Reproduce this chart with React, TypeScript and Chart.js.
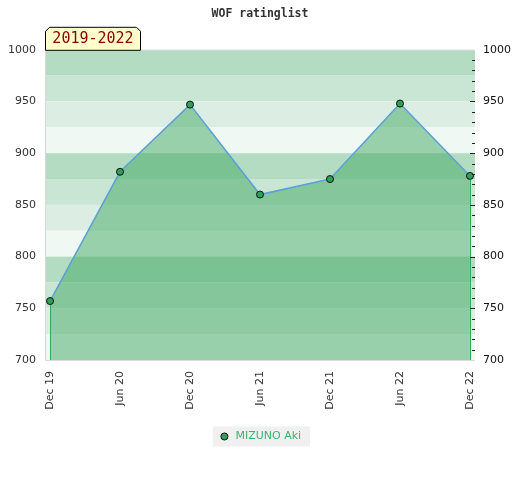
import React, { useEffect, useRef } from "react";
import { Chart, registerables } from "chart.js";

Chart.register(...registerables);

const categories = ["Dec 19", "Jun 20", "Dec 20", "Jun 21", "Dec 21", "Jun 22", "Dec 22"];
const ratings = [757, 882, 947, 860, 875, 948, 878];
const seriesName = "MIZUNO Aki";
const periodLabel = "2019-2022";
const chartTitle = "WOF ratinglist";
const yMin = 700;
const yMax = 1000;
const yStep = 50;
const bandStep = 25;
const minorStep = 10;

const bandColors = ["#b3dcc3", "#c8e6d3", "#dceee3", "#eff8f2"];

const decorPlugin = {
  id: "decor",
  beforeDraw(chart: any) {
    const { ctx, chartArea } = chart;
    const y = chart.scales.y;
    ctx.save();
    ctx.fillStyle = "#ffffff";
    ctx.fillRect(0, 0, chart.width, chart.height);
    let i = 0;
    for (let v = yMax; v > yMin; v -= bandStep) {
      const top = y.getPixelForValue(v);
      const bot = y.getPixelForValue(v - bandStep);
      ctx.fillStyle = bandColors[i % bandColors.length];
      ctx.fillRect(chartArea.left, top, chartArea.right - chartArea.left, bot - top);
      i++;
    }
    ctx.strokeStyle = "#d9d9d9";
    ctx.lineWidth = 1;
    ctx.beginPath();
    ctx.moveTo(chartArea.left + 0.5, chartArea.top + 0.5);
    ctx.lineTo(chartArea.left + 0.5, chartArea.bottom + 0.5);
    ctx.lineTo(chartArea.right, chartArea.bottom + 0.5);
    ctx.moveTo(chartArea.left, chartArea.top + 0.5);
    ctx.lineTo(chartArea.right, chartArea.top + 0.5);
    ctx.stroke();

    // legend background
    const lg = chart.legend;
    if (lg && lg.legendHitBoxes && lg.legendHitBoxes.length) {
      const hb = lg.legendHitBoxes[0];
      const cy = hb.top + hb.height / 2;
      ctx.fillStyle = "#f0f0f0";
      ctx.fillRect(hb.left - 6, cy - 10, hb.width + 15, 20);
    }
    ctx.restore();
  },
  afterDatasetsDraw(chart: any) {
    const { ctx, chartArea } = chart;
    const meta = chart.getDatasetMeta(0);
    const pts = meta.data;
    if (!pts.length) return;
    ctx.save();
    ctx.strokeStyle = "rgb(52,168,90)";
    ctx.lineWidth = 1;
    [pts[0], pts[pts.length - 1]].forEach((p: any) => {
      const x = Math.round(p.x) + 0.5;
      ctx.beginPath();
      ctx.moveTo(x, p.y + 4);
      ctx.lineTo(x, chartArea.bottom);
      ctx.stroke();
    });
    ctx.restore();
  },
  afterDraw(chart: any) {
    const { ctx, chartArea } = chart;
    const y = chart.scales.y;
    ctx.save();
    ctx.strokeStyle = "#222222";
    ctx.lineWidth = 1;
    for (let v = yMin + minorStep; v < yMax; v += minorStep) {
      const py = Math.round(y.getPixelForValue(v)) + 0.5;
      const len = v % yStep === 0 ? 5 : 3;
      ctx.beginPath();
      ctx.moveTo(chartArea.right - len, py);
      ctx.lineTo(chartArea.right, py);
      ctx.stroke();
    }
    // period label box
    const l = chartArea.left;
    const t = chartArea.top - 23;
    const w = 95;
    const h = 23;
    const c = 4;
    ctx.beginPath();
    ctx.moveTo(l + 0.5, chartArea.top + 0.5);
    ctx.lineTo(l + 0.5, t + c + 0.5);
    ctx.lineTo(l + c + 0.5, t + 0.5);
    ctx.lineTo(l + w - c + 0.5, t + 0.5);
    ctx.lineTo(l + w + 0.5, t + c + 0.5);
    ctx.lineTo(l + w + 0.5, chartArea.top + 0.5);
    ctx.closePath();
    ctx.fillStyle = "#ffffcc";
    ctx.fill();
    ctx.strokeStyle = "#000000";
    ctx.stroke();
    ctx.fillStyle = "#8b0000";
    ctx.font = "15px 'DejaVu Sans Mono'";
    ctx.textAlign = "center";
    ctx.textBaseline = "middle";
    ctx.fillText(periodLabel, l + w / 2 + 0.5, t + h / 2 + 1);
    ctx.restore();
  },
};

export default function App() {
  const ref = useRef<HTMLCanvasElement | null>(null);

  useEffect(() => {
    if (!ref.current) return;
    const axisFont = { family: "'DejaVu Sans'", size: 11 };
    const chart = new Chart(ref.current, {
      type: "line",
      data: {
        datasets: [
          {
            label: seriesName,
            data: ratings.map((v, i) => ({ x: i, y: v })),
            borderColor: "rgb(91,160,214)",
            borderWidth: 1.5,
            backgroundColor: "rgba(71,171,103,0.52)",
            fill: "start",
            tension: 0,
            pointRadius: 3.5,
            pointBackgroundColor: "rgb(46,160,90)",
            pointBorderColor: "#111111",
            pointBorderWidth: 1,
          },
        ],
      },
      options: {
        responsive: false,
        animation: false,
        layout: { padding: { top: 0, bottom: 28, left: 0, right: 0 } },
        scales: {
          x: {
            type: "linear",
            min: -0.072,
            max: categories.length - 1 + 0.072,
            afterBuildTicks: (scale: any) => {
              scale.ticks = categories.map((_, i) => ({ value: i }));
            },
            afterFit: (scale: any) => {
              scale.height = 61;
            },
            grid: { display: false, drawTicks: false },
            border: { display: false },
            ticks: {
              autoSkip: false,
              minRotation: 90,
              maxRotation: 90,
              padding: 11,
              color: "#333333",
              font: axisFont,
              callback: (v: any) => categories[v] ?? "",
            },
          },
          y: {
            position: "left",
            min: yMin,
            max: yMax,
            afterFit: (scale: any) => {
              scale.width = 45;
            },
            grid: { display: false, drawTicks: false },
            border: { display: false },
            ticks: {
              stepSize: yStep,
              padding: 9,
              color: "#333333",
              font: axisFont,
              callback: (v: any) => String(v),
            },
          },
          y2: {
            position: "right",
            min: yMin,
            max: yMax,
            afterFit: (scale: any) => {
              scale.width = 45;
            },
            grid: { display: false, drawTicks: false },
            border: { display: false },
            ticks: {
              stepSize: yStep,
              padding: 8,
              color: "#111111",
              font: axisFont,
              callback: (v: any) => String(v),
            },
          },
        },
        plugins: {
          title: {
            display: true,
            text: chartTitle,
            color: "#333333",
            font: { family: "'DejaVu Sans Mono'", size: 11.5, weight: "bold" },
            padding: { top: 7, bottom: 29 },
          },
          legend: {
            display: true,
            position: "bottom",
            labels: {
              usePointStyle: true,
              pointStyle: "circle",
              boxWidth: 11,
              boxHeight: 5,
              padding: 10,
              color: "rgb(60,179,113)",
              font: { family: "'DejaVu Sans'", size: 11 },
              generateLabels: (ch: any) => {
                const items = Chart.defaults.plugins.legend.labels.generateLabels(ch);
                return items.map((it: any) => ({
                  ...it,
                  fillStyle: "rgb(46,160,90)",
                  strokeStyle: "#111111",
                  lineWidth: 1,
                  fontColor: "rgb(60,179,113)",
                }));
              },
            },
          },
          tooltip: { enabled: false },
        },
      },
      plugins: [decorPlugin],
    } as any);
    return () => chart.destroy();
  }, []);

  return (
    <div style={{ position: "fixed", left: 0, top: 0, width: 520, height: 480, background: "#fff" }}>
      <canvas ref={ref} width={520} height={480} />
    </div>
  );
}
